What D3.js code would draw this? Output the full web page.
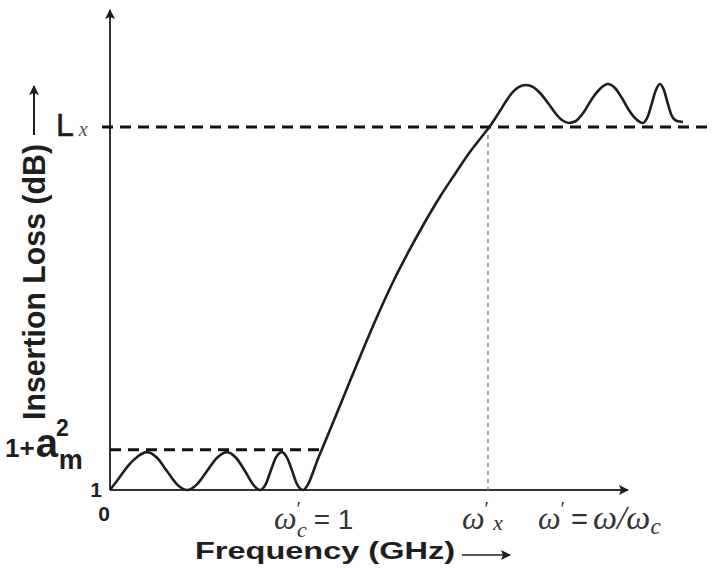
<!DOCTYPE html>
<html>
<head>
<meta charset="utf-8">
<script src="https://cdn.jsdelivr.net/npm/d3@7"></script>
<style>
html,body{margin:0;padding:0;background:#fff;}
svg{display:block;}
</style>
</head>
<body>
<svg id="chart" width="714" height="573"></svg>
<script>
// normalized frequency ω' of each curve point
const curveW = [0.000, 0.038, 0.086, 0.129, 0.176, 0.224, 0.271, 0.319, 0.367, 0.414, 0.462, 0.510, 0.557, 0.600, 0.643, 0.681,
                0.714, 0.743, 0.767, 0.790, 0.819, 0.843, 0.867, 0.890, 0.919, 0.943, 0.967, 0.990, 1.010,
                1.071, 1.143, 1.214, 1.286, 1.357, 1.429, 1.500, 1.571, 1.643, 1.714, 1.762, 1.810,
                1.857, 1.890, 1.919, 1.948, 1.981, 2.014, 2.048, 2.086, 2.124, 2.152, 2.186, 2.219, 2.257, 2.295,
                2.333, 2.371, 2.405, 2.438, 2.471, 2.505, 2.538, 2.562, 2.581, 2.600, 2.619, 2.638, 2.657, 2.676, 2.700, 2.729];
// insertion loss (relative units) of each curve point
const curveL = [1.000, 1.130, 1.300, 1.410, 1.470, 1.400, 1.235, 1.070, 1.000, 1.070, 1.235, 1.400, 1.470, 1.400, 1.235, 1.070,
                1.000, 1.080, 1.250, 1.400, 1.470, 1.400, 1.240, 1.075, 1.000, 1.070, 1.220, 1.384, 1.508,
                1.893, 2.351, 2.797, 3.231, 3.628, 3.988, 4.322, 4.632, 4.917, 5.190, 5.351, 5.512,
                5.698, 5.835, 5.934, 5.996, 6.020, 5.996, 5.921, 5.797, 5.661, 5.587, 5.550, 5.574, 5.686, 5.847,
                5.971, 6.033, 5.983, 5.859, 5.711, 5.599, 5.550, 5.636, 5.797, 5.958, 6.033, 5.958, 5.785, 5.636, 5.574, 5.562];
// reference levels
const levelBase = 1.0;      // "1"
const levelRipple = 1.5;    // "1 + a_m^2"
const levelLx = 5.5;        // "L_x"
// reference frequencies
const wCut = 1.0;           // ω'_c = 1
const wX = 1.80;            // ω'_x
const wAxisMax = 2.467;
const lAxisMax = 6.95;

const svg = d3.select("#chart");
const x = d3.scaleLinear().domain([0, wAxisMax]).range([110, 628]);
const y = d3.scaleLinear().domain([levelBase, lAxisMax]).range([490, 10]);

const ink = "#1e1e1e";

const defs = svg.append("defs");
defs.append("marker").attr("id","arr").attr("viewBox","0 0 10 10")
  .attr("refX",9).attr("refY",5).attr("markerWidth",14).attr("markerHeight",10)
  .attr("markerUnits","userSpaceOnUse").attr("orient","auto")
  .append("path").attr("d","M0,0 L10,5 L0,10 L2,5 Z").attr("fill",ink);

// axes
svg.append("line").attr("x1",x(0)).attr("y1",y(levelBase)).attr("x2",x(0)).attr("y2",y(lAxisMax))
  .attr("stroke","#333").attr("stroke-width",2).attr("marker-end","url(#arr)");
svg.append("line").attr("x1",x(0)).attr("y1",y(levelBase)).attr("x2",x(wAxisMax)).attr("y2",y(levelBase))
  .attr("stroke","#333").attr("stroke-width",2).attr("marker-end","url(#arr)");

// dashed reference lines
svg.append("line").attr("x1",x(0)-8).attr("y1",y(levelLx)).attr("x2",714).attr("y2",y(levelLx))
  .attr("stroke","#111").attr("stroke-width",3).attr("stroke-dasharray","11,7");
svg.append("line").attr("x1",x(0)).attr("y1",y(levelRipple)).attr("x2",x(wCut)+2).attr("y2",y(levelRipple))
  .attr("stroke","#111").attr("stroke-width",3).attr("stroke-dasharray","11,7");
svg.append("line").attr("x1",x(wX)).attr("y1",y(levelLx)).attr("x2",x(wX)).attr("y2",y(levelBase))
  .attr("stroke","#888").attr("stroke-width",1.5).attr("stroke-dasharray","4,4");

// response curve
const pts = curveW.map((w,i)=>[w, curveL[i]]);
const line = d3.line().x(d=>x(d[0])).y(d=>y(d[1])).curve(d3.curveMonotoneX);
svg.append("path").datum(pts).attr("d",line).attr("fill","none")
  .attr("stroke",ink).attr("stroke-width",2.6).attr("stroke-linejoin","round");

// y-axis title
const sans = "'Liberation Sans', Arial, sans-serif";
const serif = "'Liberation Serif', 'Times New Roman', serif";
svg.append("text").attr("transform","translate(45,282) rotate(-90)")
  .attr("text-anchor","middle").attr("font-family",sans).attr("font-weight","bold")
  .attr("font-size",32).attr("fill",ink)
  .attr("textLength",276).attr("lengthAdjust","spacingAndGlyphs")
  .text("Insertion Loss (dB)");
svg.append("line").attr("x1",34).attr("y1",135).attr("x2",34).attr("y2",86)
  .attr("stroke",ink).attr("stroke-width",2).attr("marker-end","url(#arr)");

// level labels
const lx = svg.append("text").attr("x",56).attr("y",y(levelLx)+9).attr("font-family",sans)
  .attr("font-size",32).attr("fill",ink).attr("stroke",ink).attr("stroke-width",0.6);
lx.append("tspan").text("L");
lx.append("tspan").attr("font-family",serif).attr("font-style","italic").attr("font-size",20)
  .attr("fill","#555").attr("stroke","none").attr("dx",5).text("x");

const am = svg.append("text").attr("x",5).attr("y",y(levelRipple)+7).attr("font-family",sans)
  .attr("font-weight","bold").attr("fill",ink);
am.append("tspan").attr("font-size",26).text("1+");
am.append("tspan").attr("font-size",40).attr("dx",1).text("a");
am.append("tspan").attr("font-size",23).attr("dx",-2).attr("dy",-21).text("2");
am.append("tspan").attr("font-size",27).attr("dx",-10).attr("dy",33).text("m");

svg.append("text").attr("x",96).attr("y",y(levelBase)+7).attr("text-anchor","middle")
  .attr("font-family",sans).attr("font-weight","bold").attr("font-size",21).attr("fill",ink).text("1");
svg.append("text").attr("x",x(0)-6).attr("y",y(levelBase)+31).attr("text-anchor","middle")
  .attr("font-family",sans).attr("font-weight","bold").attr("font-size",21).attr("fill",ink).text("0");

// frequency labels
function omegaLabel(xpos, sub, rest){
  const t = svg.append("text").attr("x",xpos).attr("y",529).attr("fill","#333");
  t.append("tspan").attr("font-family",serif).attr("font-style","italic").attr("font-size",32).text("ω");
  t.append("tspan").attr("font-family",serif).attr("font-size",20).attr("dy",-13).attr("dx",0).text("′");
  if (sub) t.append("tspan").attr("font-family",serif).attr("font-style","italic").attr("font-size",22)
     .attr("dx",sub.dx).attr("dy",sub.dy).text(sub.t);
  if (rest) rest(t);
  return t;
}
omegaLabel(x(wCut)-46, {t:"c", dx:-4, dy:21}, t=>{
  t.append("tspan").attr("font-family",sans).attr("font-size",28).attr("dy",-8).attr("dx",7).text("= 1");
});
omegaLabel(x(wX)-26, {t:"x", dx:4, dy:14});
omegaLabel(538, null, t=>{
  t.append("tspan").attr("font-family",sans).attr("font-size",29).attr("dy",13).attr("dx",6).text("=");
  t.append("tspan").attr("font-family",serif).attr("font-style","italic").attr("font-size",34).attr("dx",5).text("ω/ω");
  t.append("tspan").attr("font-family",serif).attr("font-style","italic").attr("font-size",23).attr("dy",5).text("c");
});

// x-axis title
svg.append("text").attr("x",195).attr("y",559).attr("font-family",sans).attr("font-weight","bold")
  .attr("font-size",23).attr("fill",ink).attr("textLength",260).attr("lengthAdjust","spacingAndGlyphs")
  .text("Frequency (GHz)");
svg.append("line").attr("x1",462).attr("y1",555).attr("x2",510).attr("y2",555)
  .attr("stroke",ink).attr("stroke-width",1.6).attr("marker-end","url(#arr)");
</script>
</body>
</html>
